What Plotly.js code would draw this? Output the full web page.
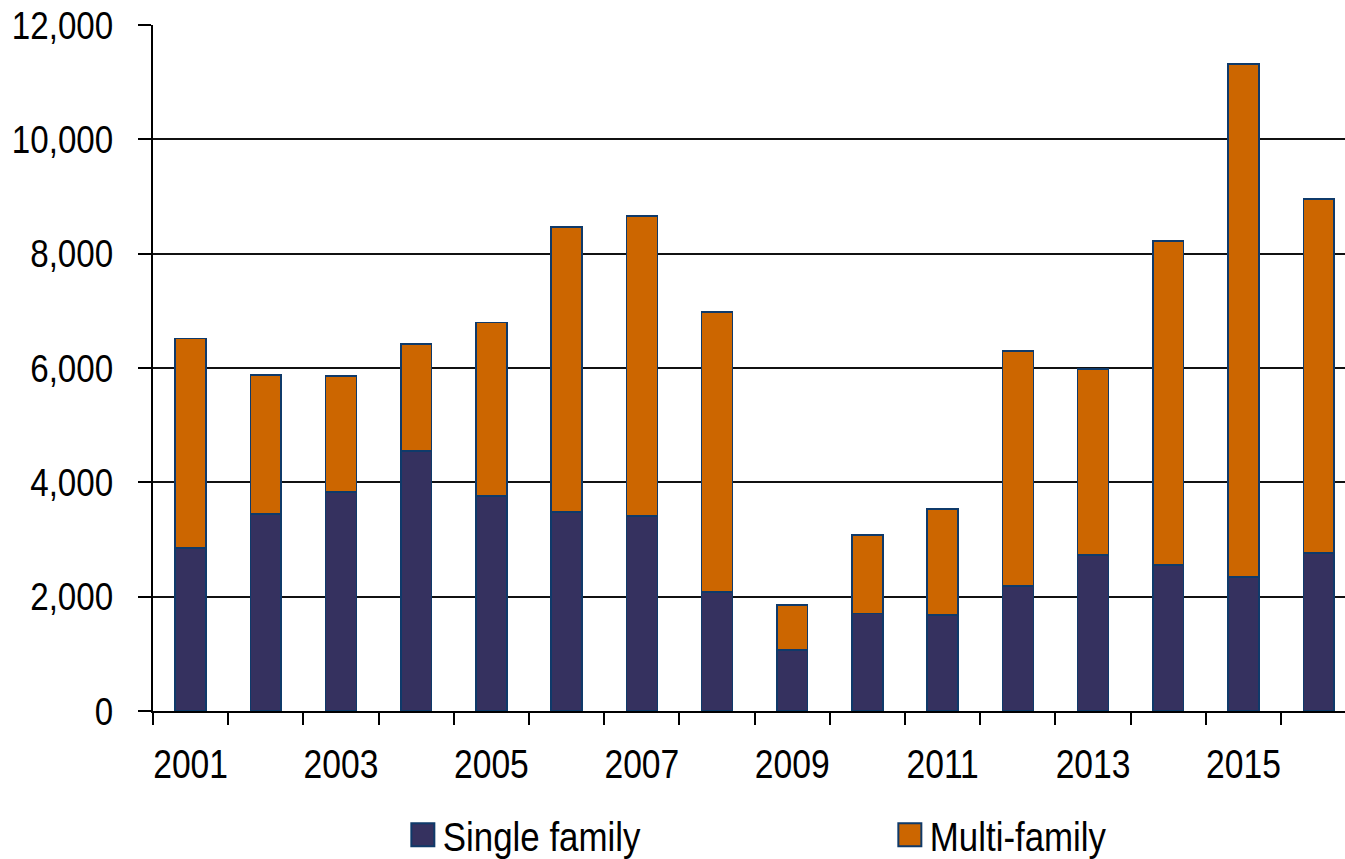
<!DOCTYPE html>
<html>
<head>
<meta charset="utf-8">
<script src="https://cdn.plot.ly/plotly-3.0.1.min.js"></script>
<style>
html,body{margin:0;padding:0;background:#fff;}#chart{width:1345px;height:859px;}
</style>
</head>
<body>
<div id="chart"></div>
<script>
const years = [2001,2002,2003,2004,2005,2006,2007,2008,2009,2010,2011,2012,2013,2014,2015,2016];
const singleFamily = [2850,3450,3830,4550,3760,3480,3410,2080,1070,1710,1680,2190,2730,2550,2340,2760];
const multiFamily  = [3670,2430,2030,1870,3040,4990,5250,4900,780,1370,1850,4110,3250,5670,8980,6200];
const xTickLabels = [2001,2003,2005,2007,2009,2011,2013,2015];
const yTickVals = [0,2000,4000,6000,8000,10000,12000];
const boundaries = years.map(y => y - 0.5);

const navy = '#35315F', orange = '#CC6600', edge = '#0F3A6A';
const sans = 'Liberation Sans, Arial, sans-serif';

const traces = [
  {type:'bar', name:'Single family', x:years, y:singleFamily, width:0.41,
   marker:{color:navy, line:{color:edge, width:1.5}}, showlegend:false},
  {type:'bar', name:'Multi-family', x:years, y:multiFamily, width:0.41,
   marker:{color:orange, line:{color:edge, width:1.5}}, showlegend:false},
  {type:'scatter', mode:'markers', name:'Single family', x:[null], y:[null],
   marker:{symbol:'square', size:22, color:navy, line:{color:edge, width:2}}},
  {type:'scatter', mode:'markers', name:'Multi-family', x:[null], y:[null],
   marker:{symbol:'square', size:22, color:orange, line:{color:edge, width:2}}}
];

const layout = {
  width:1345, height:859,
  margin:{l:153, r:0, t:25, b:148, autoexpand:false},
  paper_bgcolor:'#fff', plot_bgcolor:'#fff',
  barmode:'stack',
  separators:'.,',
  xaxis:{
    range:[2000.5, 2016.35], type:'linear',
    tickvals:xTickLabels, ticktext:xTickLabels.map(String),
    ticks:'', showgrid:false, zeroline:false,
    showline:true, linecolor:'#000', linewidth:2,
    tickfont:{family:sans, size:41, color:'#000'},
    ticklabelstandoff:16,
    minor:{tickvals:boundaries, ticks:'outside', ticklen:12, tickwidth:2, tickcolor:'#000', showgrid:false}
  },
  yaxis:{
    range:[0,12000], tickvals:yTickVals, tickformat:',d',
    ticks:'outside', ticklen:13, tickwidth:2, tickcolor:'#000',
    showgrid:true, gridcolor:'#111', gridwidth:2,
    zeroline:false, showline:true, linecolor:'#000', linewidth:2,
    tickfont:{family:sans, size:39, color:'#000'},
    ticklabelstandoff:17
  },
  showlegend:true,
  legend:{orientation:'h', traceorder:'normal', x:0.2096, xanchor:'left', y:-0.1808, yanchor:'middle',
    font:{family:sans, size:41, color:'#000'},
    entrywidth:442, entrywidthmode:'pixels', itemsizing:'trace', bgcolor:'rgba(0,0,0,0)'},
  bargap:0
};

function squeeze(sel, f) {
  document.querySelectorAll(sel).forEach(t => {
    const w = t.getComputedTextLength();
    if (w > 0) {
      t.setAttribute('textLength', (w * f).toFixed(1));
      t.setAttribute('lengthAdjust', 'spacingAndGlyphs');
    }
  });
}

Plotly.newPlot('chart', traces, layout, {displayModeBar:false, staticPlot:true}).then(() => {
  squeeze('.xtick text', 0.82);
  squeeze('.ytick text', 0.85);
  squeeze('.legendtext', 0.85);
  document.querySelectorAll('.legend .legendpoints path.scatterpts').forEach(p => {
    p.setAttribute('d', 'M11.5,11.5H-11.5V-11.5H11.5Z');
  });
});
</script>
</body>
</html>
